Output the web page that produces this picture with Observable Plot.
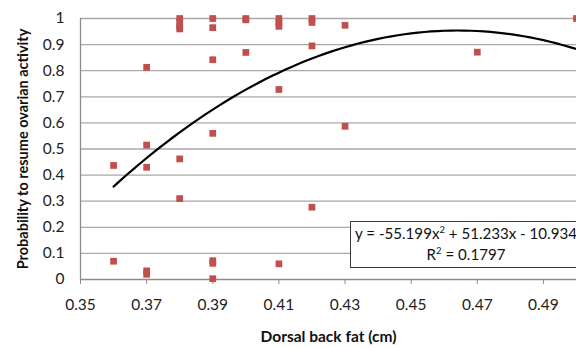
<!DOCTYPE html>
<html>
<head>
<meta charset="utf-8">
<script src="https://cdn.jsdelivr.net/npm/d3@7"></script>
<script src="https://cdn.jsdelivr.net/npm/@observablehq/plot@0.6"></script>
<style>
  html, body { margin: 0; padding: 0; background: #fff; }
  #wrap { position: relative; width: 576px; height: 348px; overflow: hidden; font-family: Lato, "Open Sans", sans-serif; }
  #eq { position: absolute; left: 350px; top: 221px; width: 232px; height: 47px; box-sizing: border-box;
        border: 1.5px solid #3a3a3a; background: #fff; color: #111; font-size: 15.1px; line-height: 21px;
        text-align: center; padding: 1px 0 0 0; white-space: nowrap; }
  #eq .l { display: block; }
  #eq sup { font-size: 9.5px; vertical-align: 6px; line-height: 0; }
</style>
</head>
<body>
<div id="wrap"></div>
<script>
// Observed data: dorsal back fat (cm) vs probability to resume ovarian activity
const fatX = [
  0.36, 0.36,
  0.37, 0.37, 0.37, 0.37, 0.37,
  0.38, 0.38, 0.38, 0.38, 0.38, 0.38,
  0.39, 0.39, 0.39, 0.39, 0.39, 0.39, 0.39,
  0.40, 0.40, 0.40,
  0.41, 0.41, 0.41, 0.41, 0.41,
  0.42, 0.42, 0.42, 0.42,
  0.43, 0.43,
  0.47,
  0.50
];
const probY = [
  0.437, 0.07,
  0.813, 0.515, 0.43, 0.033, 0.02,
  1.0, 0.985, 0.97, 0.96, 0.462, 0.31,
  1.0, 0.965, 0.842, 0.56, 0.072, 0.062, 0.003,
  1.0, 0.995, 0.87,
  1.0, 0.985, 0.97, 0.728, 0.06,
  1.0, 0.985, 0.895, 0.277,
  0.974, 0.587,
  0.871,
  1.0
];
// Trendline shown on the chart: y = -55.199x^2 + 51.233x - 10.934 (x from 0.36 to 0.50)
const trendCoef = [-55.199, 51.233, -10.934];
const trendRange = [0.36, 0.50];

const xTicks = [0.35, 0.37, 0.39, 0.41, 0.43, 0.45, 0.47, 0.49];
const yTicks = [0, 0.1, 0.2, 0.3, 0.4, 0.5, 0.6, 0.7, 0.8, 0.9, 1];
const xTitle = "Dorsal back fat (cm)";
const yTitle = "Probability to resume ovarian activity";

const points = fatX.map((x, i) => ({x, y: probY[i]}));
const trend = d3.range(trendRange[0], trendRange[1] + 1e-9, 0.002)
  .map(x => ({x, y: trendCoef[0] * x * x + trendCoef[1] * x + trendCoef[2]}));

const chart = Plot.plot({
  width: 576,
  height: 348,
  marginLeft: 80,
  marginRight: 0,
  marginTop: 18,
  marginBottom: 69,
  style: {fontFamily: "Lato, 'Open Sans', sans-serif", fontSize: "15.5px", color: "#222", background: "#fff", overflow: "visible"},
  x: {domain: [0.35, 0.50]},
  y: {domain: [0, 1]},
  marks: [
    Plot.gridY(yTicks.filter(d => d > 0), {stroke: "#a8a8a8", strokeOpacity: 1, strokeWidth: 1.3}),
    Plot.ruleX([0.35], {stroke: "#8c8c8c", strokeWidth: 1.3}),
    Plot.ruleY([0], {stroke: "#8c8c8c", strokeWidth: 1.3}),
    Plot.axisX(xTicks, {tickSize: 5, tickPadding: 14, stroke: "#8c8c8c", fill: "#222", tickFormat: d => d.toFixed(2), label: null}),
    Plot.axisY(yTicks, {tickSize: 0, tickPadding: 16, fill: "#222", tickFormat: d => (d === 0 ? "0" : d === 1 ? "1" : d.toFixed(1)), label: null}),
    Plot.line(trend, {x: "x", y: "y", stroke: "#000", strokeWidth: 2.2}),
    Plot.dot(points, {x: "x", y: "y", symbol: "square", fill: "#c0504d", r: 3.8, stroke: null}),
    Plot.text([xTitle], {frameAnchor: "bottom", dy: 62, fontWeight: "bold", fontSize: 15.5, fill: "#111"}),
    Plot.text([yTitle], {frameAnchor: "left", textAnchor: "middle", dx: -57, rotate: -90, fontWeight: "bold", fontSize: 14.5, fill: "#111"})
  ]
});

const wrap = document.getElementById("wrap");
wrap.appendChild(chart);
const eq = document.createElement("div");
eq.id = "eq";
eq.innerHTML = '<span class="l">y = -55.199x<sup>2</sup> + 51.233x - 10.934</span><span class="l">R<sup>2</sup> = 0.1797</span>';
wrap.appendChild(eq);
</script>
</body>
</html>
